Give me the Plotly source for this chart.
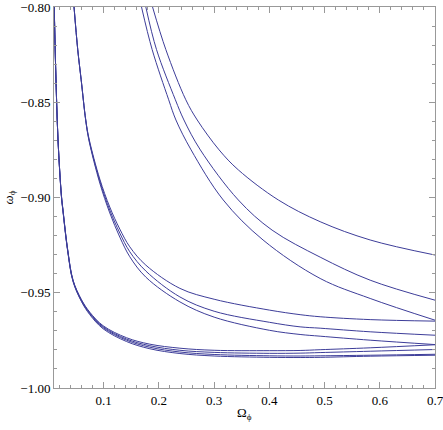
import plotly.graph_objects as go

# ---- data ----
# right family
r1_x = [0.1885, 0.2126, 0.2487, 0.2694, 0.3090, 0.3438, 0.4163, 0.4920, 0.5826, 0.7000]
r1_y = [-0.8000, -0.8224, -0.8487, -0.8593, -0.8750, -0.8855, -0.9013, -0.9127, -0.9223, -0.9302]
r2_x = [0.1763, 0.1957, 0.2298, 0.2453, 0.2750, 0.3438, 0.4049, 0.4920, 0.5826, 0.7000]
r2_y = [-0.8000, -0.8224, -0.8487, -0.8593, -0.8750, -0.9013, -0.9171, -0.9313, -0.9434, -0.9539]
r3_x = [0.1685, 0.1878, 0.2177, 0.2308, 0.2583, 0.3165, 0.3886, 0.4920, 0.5826, 0.7000]
r3_y = [-0.8000, -0.8224, -0.8487, -0.8593, -0.8750, -0.9013, -0.9223, -0.9425, -0.9530, -0.9644]

# middle family
m_x = [0.0463, 0.0530, 0.0592, 0.0675, 0.0735, 0.0929, 0.1110, 0.1292, 0.1473, 0.1763,
       0.2380, 0.3000, 0.4000, 0.4557, 0.4920, 0.5826, 0.7000]
m1_y = [-0.8000, -0.8224, -0.8382, -0.8593, -0.8692, -0.8903, -0.9050, -0.9166, -0.9259, -0.9355,
        -0.9477, -0.9534, -0.9591, -0.9615, -0.9626, -0.9641, -0.9649]
m2_y = [-0.8000, -0.8224, -0.8382, -0.8593, -0.8698, -0.8913, -0.9066, -0.9187, -0.9285, -0.9386,
        -0.9522, -0.9597, -0.9655, -0.9679, -0.9686, -0.9705, -0.9723]
m3_y = [-0.8000, -0.8224, -0.8382, -0.8598, -0.8703, -0.8924, -0.9081, -0.9208, -0.9311, -0.9418,
        -0.9548, -0.9628, -0.9697, -0.9719, -0.9728, -0.9749, -0.9772]

# left family
l_x = [0.0104, 0.0131, 0.0173, 0.0234, 0.0263, 0.0349, 0.0445, 0.0597, 0.0748, 0.0989,
       0.1413, 0.1836, 0.2380, 0.3000, 0.4000, 0.4557, 0.4920, 0.5826, 0.7000]
l1_y = [-0.8000, -0.8330, -0.8698, -0.8987, -0.9066, -0.9276, -0.9434, -0.9536, -0.9602, -0.9673,
        -0.9736, -0.9770, -0.9791, -0.9802, -0.9804, -0.9803, -0.9799, -0.9789, -0.9773]
l2_y = [-0.8000, -0.8330, -0.8698, -0.8989, -0.9068, -0.9279, -0.9436, -0.9539, -0.9606, -0.9678,
        -0.9743, -0.9778, -0.9802, -0.9813, -0.9818, -0.9817, -0.9814, -0.9807, -0.9798]
l3_y = [-0.8000, -0.8330, -0.8698, -0.8992, -0.9071, -0.9281, -0.9439, -0.9543, -0.9610, -0.9683,
        -0.9749, -0.9786, -0.9811, -0.9824, -0.9831, -0.9832, -0.9831, -0.9828, -0.9823]
l4_y = [-0.8000, -0.8330, -0.8698, -0.8995, -0.9074, -0.9284, -0.9442, -0.9546, -0.9615, -0.9689,
        -0.9756, -0.9794, -0.9819, -0.9832, -0.9839, -0.9840, -0.9839, -0.9833, -0.9828]

x_ticks = [0.1, 0.2, 0.3, 0.4, 0.5, 0.6, 0.7]
y_ticks = [-1.00, -0.95, -0.90, -0.85, -0.80]

curves = [
    (r1_x, r1_y), (r2_x, r2_y), (r3_x, r3_y),
    (m_x, m1_y), (m_x, m2_y), (m_x, m3_y),
    (l_x, l1_y), (l_x, l2_y), (l_x, l3_y), (l_x, l4_y),
]

LINE = "rgb(61,61,153)"
FRAME = "#999999"
FONT = "Liberation Serif, Times New Roman, serif"

fig = go.Figure()
for xs, ys in curves:
    fig.add_trace(go.Scatter(x=xs, y=ys, mode="lines",
                             line=dict(color=LINE, width=1, shape="spline", smoothing=1.0),
                             showlegend=False, hoverinfo="skip", cliponaxis=True))

axis_common = dict(
    showgrid=False, zeroline=False, showline=True, linecolor=FRAME, linewidth=1,
    mirror="allticks", ticks="inside", tickcolor=FRAME, ticklen=6, tickwidth=1,
    tickfont=dict(family=FONT, size=13, color="black"),
    automargin=False, ticklabeloverflow="allow",
)

fig.update_xaxes(
    range=[0.01, 0.7000001], tickmode="array", tickvals=x_ticks,
    ticktext=[f"{v:.1f}" for v in x_ticks],
    minor=dict(ticks="inside", ticklen=3, dtick=0.02, tick0=0, tickcolor=FRAME, tickwidth=1),
    **axis_common,
)
fig.update_yaxes(
    range=[-1.0, -0.8], tickmode="array", tickvals=y_ticks,
    ticktext=["\u2212" + f"{abs(v):.2f}" for v in y_ticks],
    minor=dict(ticks="inside", ticklen=3, dtick=0.01, tick0=0, tickcolor=FRAME, tickwidth=1),
    **axis_common,
)

fig.add_annotation(text="Ω<sub>ϕ</sub>", xref="paper", yref="paper", x=0.5, y=0,
                   yshift=-25, xanchor="center", yanchor="middle", showarrow=False,
                   font=dict(family=FONT, size=13, color="black"))
fig.add_annotation(text="<i>ω</i><sub>ϕ</sub>", xref="paper", yref="paper", x=0, y=0.5,
                   xshift=-45, xanchor="center", yanchor="middle", showarrow=False,
                   textangle=-90, font=dict(family=FONT, size=13, color="black"))

fig.update_layout(
    width=443, height=430,
    margin=dict(l=54, r=8, t=7, b=42),
    paper_bgcolor="white", plot_bgcolor="white",
)

fig.write_html("out.html", config={"displayModeBar": False, "staticPlot": True},
               post_script="document.body.style.margin='0';document.body.style.overflow='hidden';")
